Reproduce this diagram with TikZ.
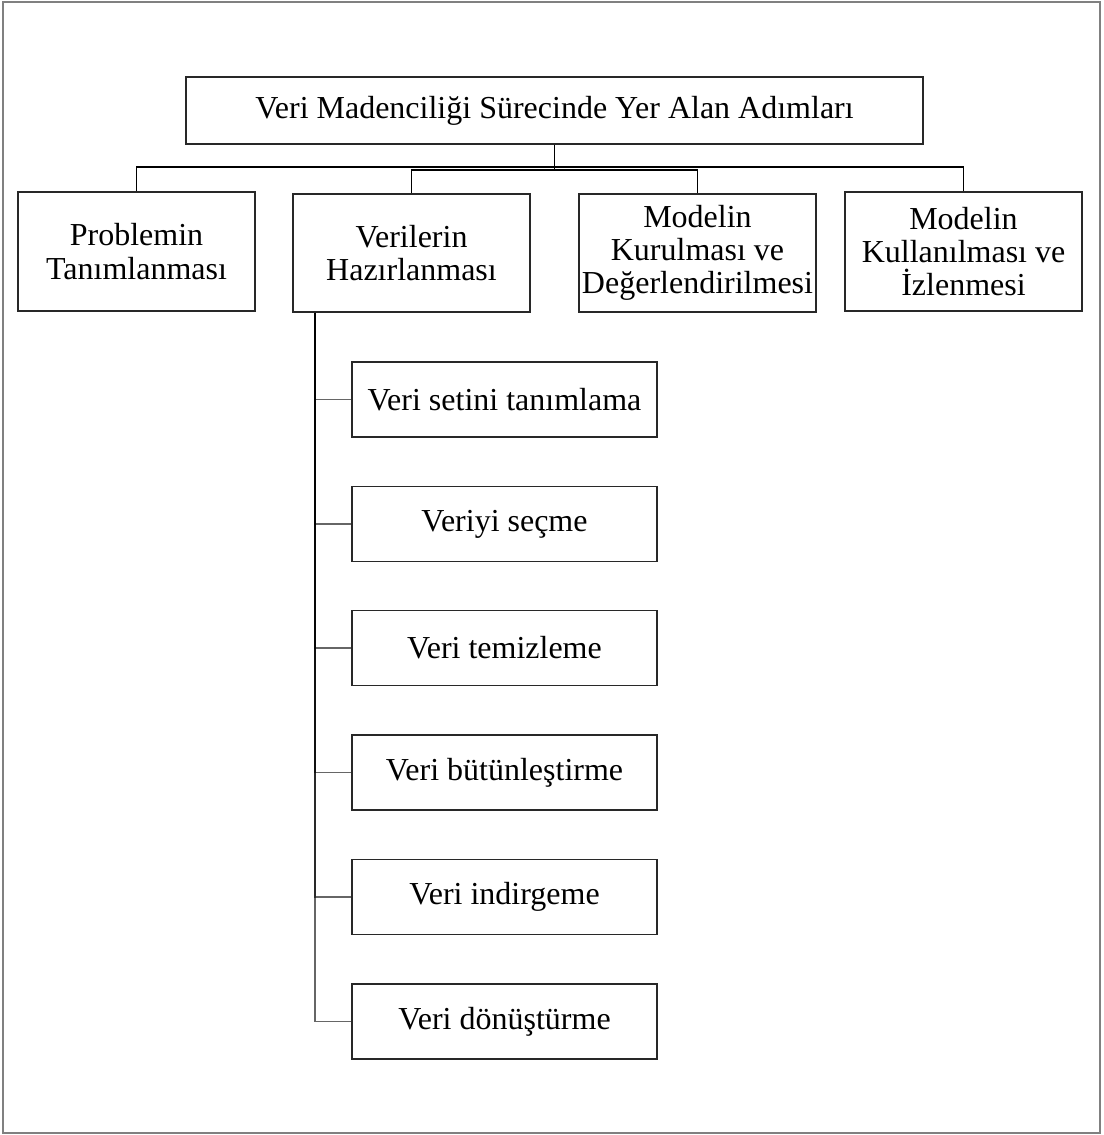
\documentclass[tikz,border=0pt]{standalone}
\usepackage{fontspec}
\setmainfont{Liberation Serif}
\usepackage{tikz}
\usetikzlibrary{calc}
\definecolor{edge}{RGB}{40,40,40}
\definecolor{frame}{RGB}{128,128,128}

\begin{document}
\begin{tikzpicture}[x=0.5pt, y=-0.5pt,
  root/.style={draw=edge, line width=0.7pt, align=center, minimum width=368.5pt, minimum height=33.5pt, inner sep=2pt, font=\fontsize{16}{16.6}\selectfont},
  phase/.style={draw=edge, line width=0.7pt, align=center, minimum width=118.5pt, minimum height=59pt, inner sep=1pt, font=\fontsize{16}{16.6}\selectfont},
  task/.style={draw=edge, line width=0.7pt, align=center, minimum width=152.5pt, minimum height=37.5pt, inner sep=2pt, font=\fontsize{16}{16.6}\selectfont},
  link/.style={draw=black, line width=0.6pt},
  branch/.style={draw=black, draw opacity=0.6, line width=0.9pt}]
\useasboundingbox (0,0) rectangle (1103,1135);
\draw[frame, line width=0.8pt] (3,2) rectangle (1100,1133);
\node[root] (top) at (554.5,110.5) {Veri Madenciliği Sürecinde Yer Alan Adımları};
\node[phase, minimum height=59.5pt] (prob) at (136.5,251.5) {Problemin\\ Tanımlanması};
\node[phase] (hazir) at (411.5,253) {Verilerin\\ Hazırlanması};
\node[phase] (kurul) at (697.5,253) {Modelin\\ Kurulması ve\\ Değerlendirilmesi};
\node[phase, minimum height=59.5pt] (kullan) at (963.5,251.5) {Modelin\\ Kullanılması ve\\ İzlenmesi};
\coordinate (busA) at (554.5,167);
\coordinate (busB) at (554.5,170);
\draw[link] (top.south) -- (busB);
\draw[link] (prob.north) |- (busA) -| (kullan.north);
\draw[link] (hazir.north) |- (busB) -| (kurul.north);
% alt adimlar
\node[task] (t1) at (504.5,399.5) {Veri setini tanımlama};
\node[task] (t2) at (504.5,524) {Veriyi seçme};
\node[task] (t3) at (504.5,648) {Veri temizleme};
\node[task] (t4) at (504.5,772.5) {Veri bütünleştirme};
\node[task] (t5) at (504.5,897) {Veri indirgeme};
\node[task] (t6) at (504.5,1021.5) {Veri dönüştürme};
\coordinate (sp) at ([xshift=11.5pt]hazir.south west);
\foreach \t in {t1,t2,t3,t4,t5,t6}
  \draw[branch] (sp) |- (\t.west);
\end{tikzpicture}
\end{document}
